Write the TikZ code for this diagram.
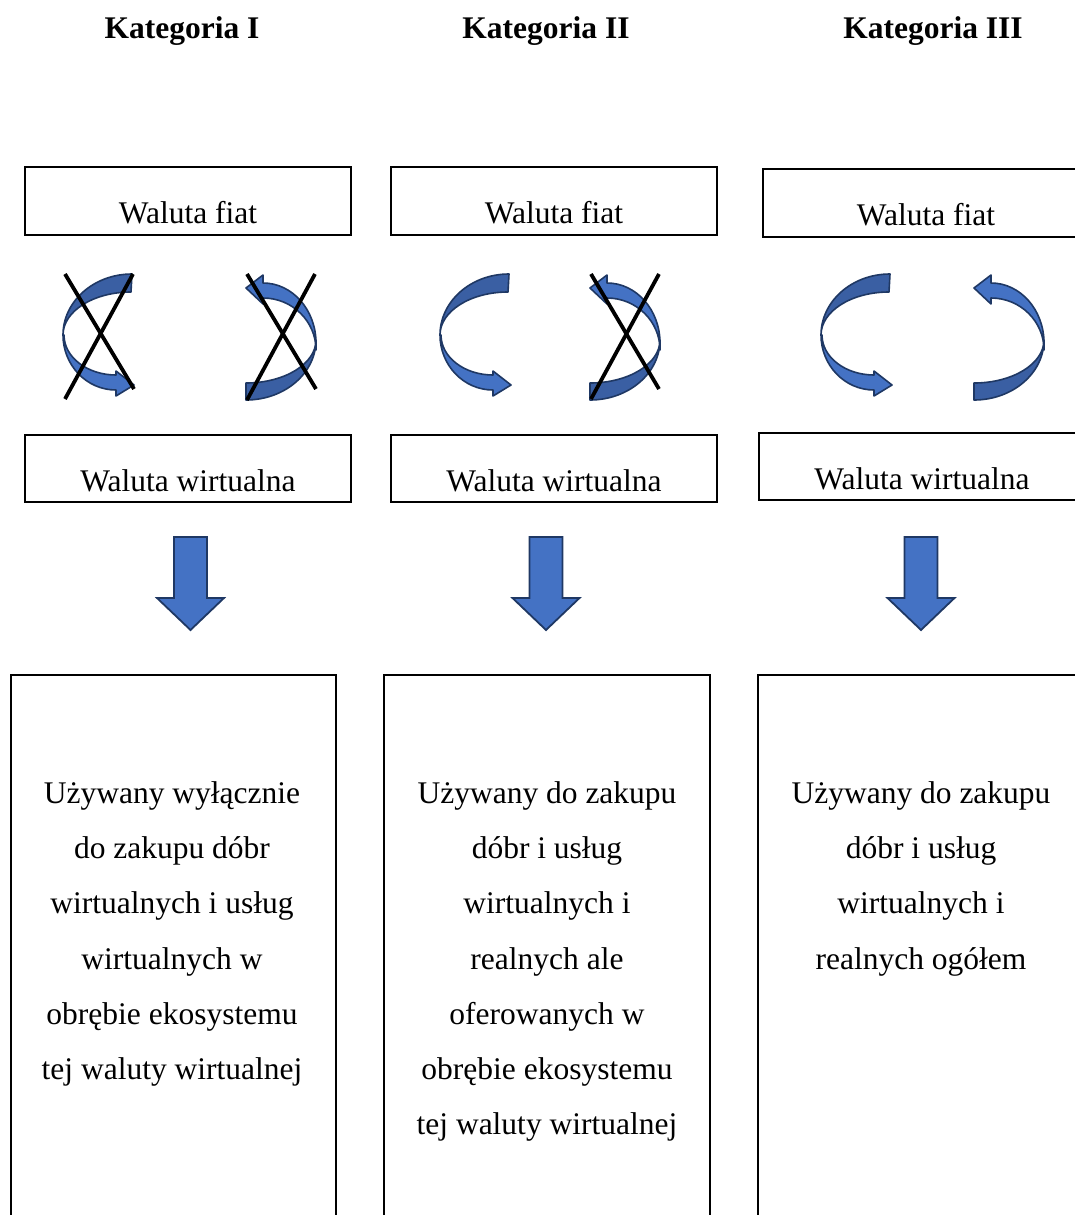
\documentclass[tikz,border=0pt]{standalone}
\usepackage{fontspec}
\setmainfont{Liberation Serif}
\begin{document}
\begin{tikzpicture}[x=1pt,y=-1pt,
  box/.style={draw=black,line width=1.3pt,fill=none},
  lbl/.style={font=\fontsize{31.5}{36}\selectfont,inner sep=0pt,anchor=base},
  title/.style={font=\fontsize{31.5}{36}\selectfont\bfseries,inner sep=0pt,anchor=base},
  body/.style={font=\fontsize{31.5}{55.2}\selectfont,inner sep=0pt,anchor=north,align=center},
  backband/.style={fill=backblue,draw=navy,line width=1.6pt,line join=round},
  frontband/.style={fill=frontblue,draw=navy,line width=1.6pt,line join=round},
  downarrow/.style={fill=frontblue,draw=navy,line width=1.8pt,line join=miter},
  cross/.style={draw=black,line width=3.8pt}]
\definecolor{frontblue}{HTML}{4472C4}
\definecolor{backblue}{HTML}{3A5FA3}
\definecolor{navy}{HTML}{1F3864}
\useasboundingbox (0,0) rectangle (1075,1215);
\clip (0,0) rectangle (1075,1215);

% column titles
\node[title] (t1) at (182,39) {Kategoria I};
\node[title] (t2) at (546,39) {Kategoria II};
\node[title] (t3) at (933,39) {Kategoria III};

% fiat currency boxes
\draw[box] (25,167) rectangle (351,235);
\draw[box] (391,167) rectangle (717,235);
\draw[box] (763,169) rectangle (1085,237);
\node[lbl] (f1) at (188,223) {Waluta fiat};
\node[lbl] (f2) at (554,223) {Waluta fiat};
\node[lbl] (f3) at (926,225) {Waluta fiat};

% virtual currency boxes
\draw[box] (25,435) rectangle (351,502);
\draw[box] (391,435) rectangle (717,502);
\draw[box] (759,433) rectangle (1085,500);
\node[lbl] (v1) at (188,491) {Waluta wirtualna};
\node[lbl] (v2) at (554,491) {Waluta wirtualna};
\node[lbl] (v3) at (922,489) {Waluta wirtualna};

% exchange arrows: fiat -> virtual (left) and virtual -> fiat (right)
\foreach \dx in {0,377,758}{
  \begin{scope}[xshift=\dx]
    \draw[backband] (132,274) arc[start angle=270,end angle=180,x radius=69,y radius=61]
       arc[start angle=180,end angle=270,x radius=68,y radius=43] -- cycle;
    \draw[frontband] (63,335) arc[start angle=180,end angle=90,x radius=53,y radius=55]
       -- (116,396) -- (134,385) -- (116,371) -- (116,375)
       arc[start angle=90,end angle=180,x radius=52,y radius=40] -- cycle;
  \end{scope}
}
\foreach \dx in {0,344,728}{
  \begin{scope}[xshift=\dx]
    \draw[backband] (246,400) arc[start angle=90,end angle=0,x radius=70,y radius=60]
       arc[start angle=0,end angle=90,x radius=70,y radius=43] -- cycle;
    \draw[frontband] (316,343) arc[start angle=0,end angle=-90,x radius=53,y radius=60]
       -- (263,275) -- (246,288) -- (263,304) -- (263,298)
       arc[start angle=-90,end angle=0,x radius=53,y radius=52] -- cycle;
  \end{scope}
}

% excluded exchange directions
\draw[cross] (65,274) -- (134,389);
\draw[cross] (65,399) -- (133,274);
\draw[cross] (247,274) -- (316,389);
\draw[cross] (247,400) -- (315,274);
\draw[cross] (591,274) -- (659,389);
\draw[cross] (591,399) -- (659,274);

% down arrows
\foreach \cx in {190.5,546,921}{
  \draw[downarrow] (\cx-16.5,537) -- (\cx+16.5,537) -- (\cx+16.5,598) -- (\cx+33.5,598)
     -- (\cx,630) -- (\cx-33.5,598) -- (\cx-16.5,598) -- cycle;
}

% usage boxes
\draw[box] (11,675) rectangle (336,1230);
\draw[box] (384,675) rectangle (710,1230);
\draw[box] (758,675) rectangle (1085,1230);
\node[body] (u1) at (172,781.5) {Używany wyłącznie\\do zakupu dóbr\\wirtualnych i usług\\wirtualnych w\\obrębie ekosystemu\\tej waluty wirtualnej};
\node[body] (u2) at (547,781.5) {Używany do zakupu\\dóbr i usług\\wirtualnych i\\realnych ale\\oferowanych w\\obrębie ekosystemu\\tej waluty wirtualnej};
\node[body] (u3) at (921,781.5) {Używany do zakupu\\dóbr i usług\\wirtualnych i\\realnych ogółem};
\end{tikzpicture}
\end{document}
